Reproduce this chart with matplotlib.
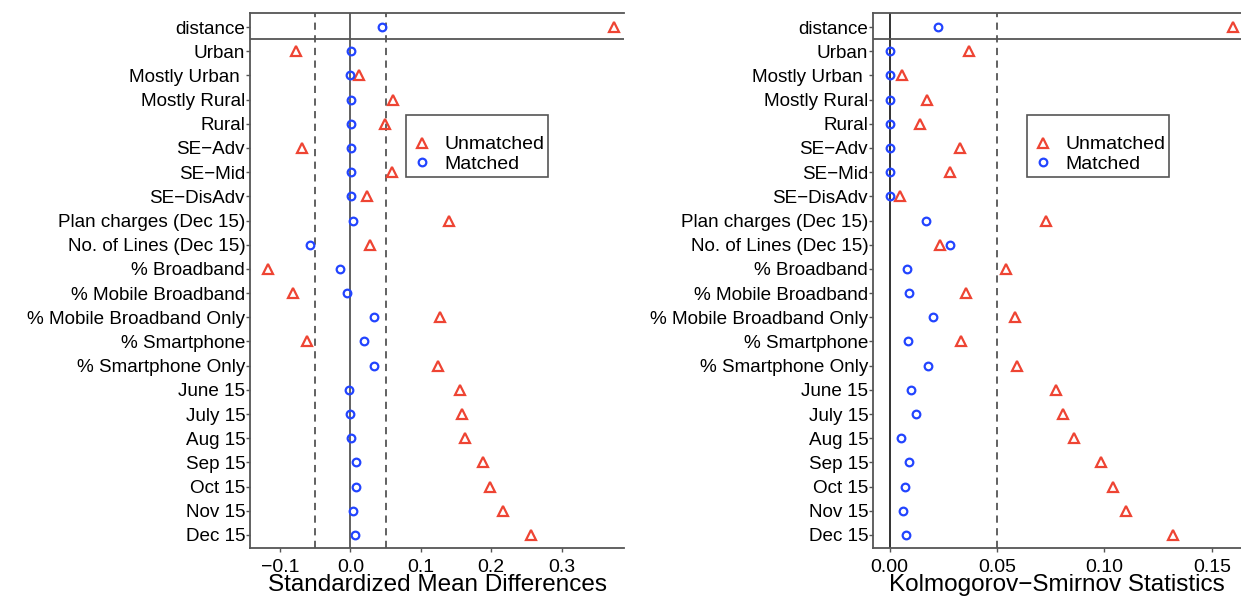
import matplotlib
matplotlib.use("Agg")
import matplotlib.pyplot as plt
from matplotlib.lines import Line2D
from matplotlib.transforms import blended_transform_factory

plt.rcParams['font.family'] = ['Liberation Sans', 'DejaVu Sans']

variables = ["distance", "Urban", "Mostly Urban ", "Mostly Rural", "Rural",
             "SE\u2212Adv", "SE\u2212Mid", "SE\u2212DisAdv",
             "Plan charges (Dec 15)", "No. of Lines (Dec 15)", "% Broadband",
             "% Mobile Broadband", "% Mobile Broadband Only", "% Smartphone",
             "% Smartphone Only", "June 15", "July 15", "Aug 15", "Sep 15",
             "Oct 15", "Nov 15", "Dec 15"]

smd_unmatched = [0.3745, -0.077, 0.012, 0.060, 0.049, -0.069, 0.059, 0.023,
                 0.1395, 0.028, -0.117, -0.082, 0.127, -0.062, 0.124,
                 0.156, 0.159, 0.1635, 0.188, 0.1985, 0.217, 0.256]
smd_matched = [0.0455, 0.001, 0.0, 0.001, 0.001, 0.001, 0.001, 0.001,
               0.004, -0.057, -0.015, -0.005, 0.0335, 0.020, 0.0335,
               -0.0015, 0.0, 0.001, 0.008, 0.008, 0.0043, 0.006]

ks_unmatched = [0.160, 0.0367, 0.0056, 0.0174, 0.0143, 0.0326, 0.0281, 0.0047,
                0.0728, 0.0236, 0.054, 0.0357, 0.0582, 0.0334, 0.0592,
                0.0775, 0.0805, 0.0856, 0.0985, 0.1038, 0.110, 0.1317]
ks_matched = [0.0225, 0.0, 0.0, 0.0, 0.0, 0.0, 0.0, 0.0,
              0.0171, 0.028, 0.0082, 0.0089, 0.0203, 0.0087, 0.0177,
              0.0101, 0.0121, 0.0054, 0.0089, 0.0071, 0.0061, 0.0075]

RED = "#EE4433"
BLUE = "#2244FF"
GREY = "#555555"

fig = plt.figure(figsize=(12.41, 5.97), dpi=100)
ax1 = fig.add_axes([250 / 1241, 49 / 597, 374 / 1241, 535 / 597])
ax2 = fig.add_axes([873 / 1241, 49 / 597, 368 / 1241, 535 / 597])

ypos = list(range(len(variables)))


def draw_panel(ax, unmatched, matched, xlim, xticks, xticklabels, xlabel,
               zero_color, dashed, leg_x):
    ax.axvline(0, color=zero_color, lw=1.3, zorder=1)
    for d in dashed:
        ax.axvline(d, color=GREY, lw=1.3, ls=(0, (4, 3)), zorder=1)
    ax.axhline(0.5, color=GREY, lw=1.3, zorder=1)
    ax.plot(unmatched, ypos, ls="none", marker="^", ms=6.5, mfc="none",
            mec=RED, mew=1.6, zorder=3)
    ax.plot(matched, ypos, ls="none", marker="o", ms=5.5, mfc="none",
            mec=BLUE, mew=1.6, zorder=3)
    ax.set_ylim(21.54, -0.58)
    ax.set_xlim(*xlim)
    ax.set_yticks(ypos)
    ax.set_yticklabels(variables, fontsize=13.6)
    ax.set_xticks(xticks)
    ax.set_xticklabels(xticklabels, fontsize=14)
    ax.tick_params(axis="both", direction="out", length=3, color=GREY,
                   width=1)
    ax.tick_params(axis="y", pad=0.5)
    ax.tick_params(axis="x", pad=5)
    ax.set_xlabel(xlabel, fontsize=17.5)
    ax.xaxis.set_label_coords(
        0.5, 6 / 597,
        transform=blended_transform_factory(ax.transAxes, fig.transFigure))
    ax.xaxis.label.set_va("baseline")
    for side in ["left", "bottom", "top"]:
        ax.spines[side].set_color(GREY)
        ax.spines[side].set_linewidth(1.3)
    ax.spines["right"].set_visible(False)
    handles = [Line2D([], [], ls="none", marker="^", ms=6.5, mfc="none",
                      mec=RED, mew=1.6),
               Line2D([], [], ls="none", marker="o", ms=5.5, mfc="none",
                      mec=BLUE, mew=1.6)]
    leg = ax.legend(handles, ["Unmatched", "Matched"], fontsize=14,
                    title=" ", title_fontsize=12, loc="upper left",
                    bbox_to_anchor=(leg_x, 1 - 102 / 535),
                    borderaxespad=0, fancybox=False, framealpha=1,
                    edgecolor=GREY, handletextpad=0.5, labelspacing=0.1,
                    borderpad=0.2, handlelength=1.3)
    leg.get_frame().set_linewidth(1.2)


draw_panel(ax1, smd_unmatched, smd_matched, (-0.1426, 0.3887),
           [-0.1, 0.0, 0.1, 0.2, 0.3],
           ["\u22120.1", "0.0", "0.1", "0.2", "0.3"],
           "Standardized Mean Differences", GREY, [-0.05, 0.05], 155.7 / 374)

draw_panel(ax2, ks_unmatched, ks_matched, (-0.0078, 0.1636),
           [0.0, 0.05, 0.10, 0.15],
           ["0.00", "0.05", "0.10", "0.15"],
           "Kolmogorov\u2212Smirnov Statistics", "#222222", [0.05], 153.7 / 368)

fig.savefig("out.png", dpi=100)
